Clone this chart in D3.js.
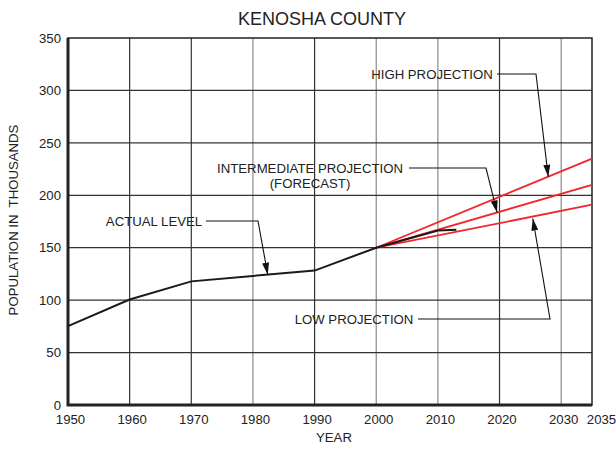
<!DOCTYPE html>
<html>
<head>
<meta charset="utf-8">
<script src="https://cdn.jsdelivr.net/npm/d3@7"></script>
<style>
  body { margin: 0; background: #fff; }
  text { font-family: "Liberation Sans", Arial, sans-serif; fill: #222; }
</style>
</head>
<body>
<div id="chart"></div>
<script>
var svgWidth = 616;
var svgHeight = 449;

// actual population (thousands)
var actualYears = [1950, 1960, 1970, 1980, 1990, 2000, 2010, 2013];
var actualValues = [75.2, 100.6, 117.9, 123.1, 128.2, 150.0, 166.4, 167.2];

// projections from 2000 to 2035
var projYears = [2000, 2035];
var highValues = [150, 235];
var intermediateValues = [150, 210];
var lowValues = [150, 191];

var xTicks = [1950, 1960, 1970, 1980, 1990, 2000, 2010, 2020, 2030, 2035];
var yTicks = [0, 50, 100, 150, 200, 250, 300, 350];

var x = d3.scaleLinear().domain([1950, 2035]).range([68, 592]);
var y = d3.scaleLinear().domain([0, 350]).range([405, 38]);

var fontSize = "13.2px";

var svg = d3.select("#chart")
    .append("svg")
    .attr("width", svgWidth)
    .attr("height", svgHeight);

svg.append("rect")
    .attr("width", svgWidth)
    .attr("height", svgHeight)
    .attr("fill", "#fff");

// grid
var darkYears = [1960, 1970, 1990, 2020];
svg.append("g").selectAll("line")
    .data(xTicks.filter(d => d > 1950 && d < 2035))
    .enter()
    .append("line")
    .attr("x1", d => x(d)).attr("x2", d => x(d))
    .attr("y1", y(0)).attr("y2", y(350))
    .attr("stroke", d => darkYears.indexOf(d) >= 0 ? "#333" : "#8a8a8a")
    .attr("stroke-width", 1.2);

svg.append("g").selectAll("line")
    .data(yTicks.filter(d => d > 0 && d < 350))
    .enter()
    .append("line")
    .attr("x1", x(1950)).attr("x2", x(2035))
    .attr("y1", d => y(d)).attr("y2", d => y(d))
    .attr("stroke", "#333")
    .attr("stroke-width", 1.2);

// frame
svg.append("rect")
    .attr("x", x(1950)).attr("y", y(350))
    .attr("width", x(2035) - x(1950))
    .attr("height", y(0) - y(350))
    .attr("fill", "none")
    .attr("stroke", "#222")
    .attr("stroke-width", 1.5);

svg.append("path")
    .attr("d", `M${x(1950)},${y(350)}V${y(0)}H${x(2035)}`)
    .attr("fill", "none")
    .attr("stroke", "#222")
    .attr("stroke-width", 3);

// axes labels
var xAxis = d3.axisBottom(x).tickValues(xTicks).tickSize(0).tickPadding(10)
    .tickFormat(d3.format("d"));
var gx = svg.append("g")
    .attr("transform", `translate(0, ${y(0)})`)
    .call(xAxis);
gx.select(".domain").remove();
gx.selectAll("text")
    .style("font-size", fontSize)
    .attr("dx", d => d === 2035 ? 9 : 2);

var yAxis = d3.axisLeft(y).tickValues(yTicks).tickSize(0).tickPadding(7);
var gy = svg.append("g")
    .attr("transform", `translate(${x(1950)}, 0)`)
    .call(yAxis);
gy.select(".domain").remove();
gy.selectAll("text")
    .style("font-size", fontSize);

svg.append("text")
    .attr("x", 322)
    .attr("y", 25)
    .attr("text-anchor", "middle")
    .style("font-size", "18px")
    .text("KENOSHA COUNTY");

svg.append("text")
    .attr("x", 334)
    .attr("y", 442)
    .attr("text-anchor", "middle")
    .style("font-size", fontSize)
    .text("YEAR");

svg.append("text")
    .attr("transform", "translate(18, 220) rotate(-90)")
    .attr("text-anchor", "middle")
    .style("font-size", fontSize)
    .style("white-space", "pre")
    .attr("xml:space", "preserve")
    .text("POPULATION IN  THOUSANDS");

// series
var line = d3.line().x(d => x(d[0])).y(d => y(d[1]));

[highValues, intermediateValues, lowValues].forEach(function(vals) {
    svg.append("path")
        .datum(projYears.map((yr, i) => [yr, vals[i]]))
        .attr("d", line)
        .attr("fill", "none")
        .attr("stroke", "#f0262b")
        .attr("stroke-width", 1.8);
});

svg.append("path")
    .datum(actualYears.map((yr, i) => [yr, actualValues[i]]))
    .attr("d", line)
    .attr("fill", "none")
    .attr("stroke", "#1a1a1a")
    .attr("stroke-width", 2);

// annotations
svg.append("defs").append("marker")
    .attr("id", "arrow")
    .attr("markerUnits", "userSpaceOnUse")
    .attr("markerWidth", 13)
    .attr("markerHeight", 7)
    .attr("refX", 12)
    .attr("refY", 3.5)
    .attr("orient", "auto")
    .append("path")
    .attr("d", "M0,0L12,3.5L0,7Z")
    .attr("fill", "#111");

function lerp(years, vals, t) {
    for (var i = 0; i < years.length - 1; i++) {
        if (t >= years[i] && t <= years[i + 1]) {
            var f = (t - years[i]) / (years[i + 1] - years[i]);
            return vals[i] + f * (vals[i + 1] - vals[i]);
        }
    }
    return vals[vals.length - 1];
}

// lines of text are drawn centred on textX; the leader starts at startX
function annotate(lines, textX, textY, startX, cornerX, tipYear, tipY) {
    var t = svg.append("text")
        .attr("x", textX)
        .attr("y", textY + 4.5)
        .attr("text-anchor", "middle")
        .style("font-size", fontSize);
    lines.forEach(function(s, i) {
        t.append("tspan")
            .attr("x", textX)
            .attr("dy", i === 0 ? 0 : 15)
            .text(s);
    });
    svg.append("path")
        .attr("d", `M${startX},${textY}H${cornerX}L${x(tipYear)},${tipY}`)
        .attr("fill", "none")
        .attr("stroke", "#111")
        .attr("stroke-width", 1.1)
        .attr("marker-end", "url(#arrow)");
}

annotate(["HIGH PROJECTION"], 432, 74, 497, 536, 2027.9,
    y(lerp(projYears, highValues, 2027.9)));
annotate(["INTERMEDIATE PROJECTION", "(FORECAST)"], 310, 168, 409, 486, 2019.6,
    y(lerp(projYears, intermediateValues, 2019.6)));
annotate(["ACTUAL LEVEL"], 154, 221, 206, 258, 1982.4,
    y(lerp(actualYears, actualValues, 1982.4)));
annotate(["LOW PROJECTION"], 354, 319, 418, 550, 2025.4,
    y(lerp(projYears, lowValues, 2025.4)) + 2);
</script>
</body>
</html>
